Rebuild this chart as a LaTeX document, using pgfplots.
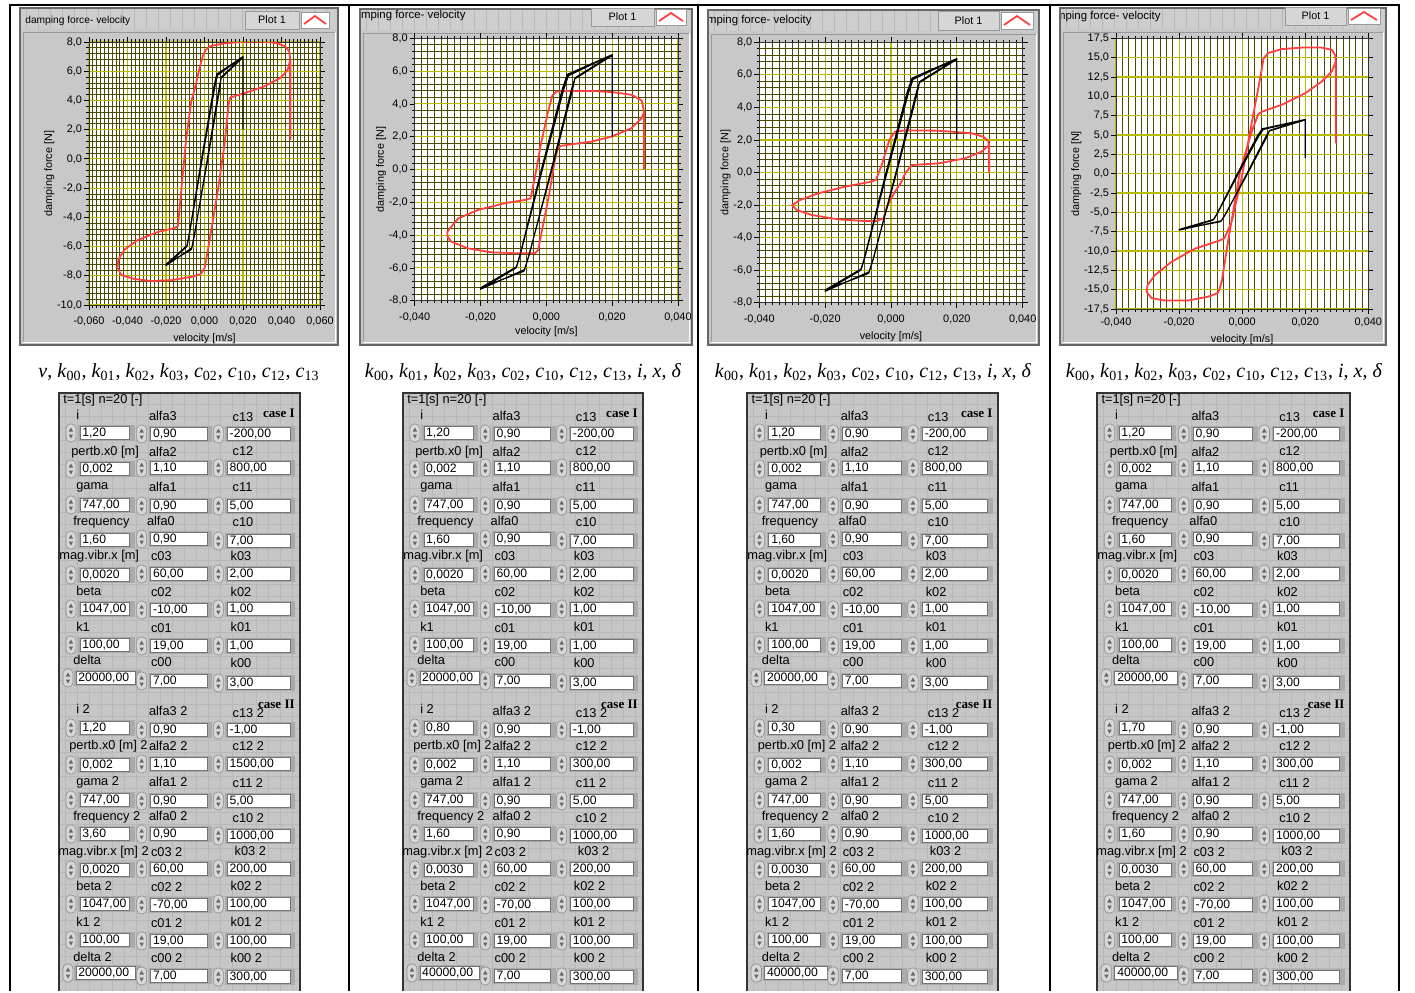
\documentclass[border=0pt]{standalone}
\usepackage{fontspec}
\setmainfont{Liberation Serif}
\newfontfamily\lv{Liberation Sans}
\usepackage{pgfplots}
\usepackage{pgfplotstable}
\pgfplotsset{compat=1.18}

\definecolor{framefill}{RGB}{200,200,200}
\definecolor{titlefill}{RGB}{206,206,206}
\definecolor{panelfill}{RGB}{198,198,198}
\definecolor{panelgrid}{RGB}{184,184,184}
\definecolor{legfill}{RGB}{214,214,214}
\definecolor{ctlshade}{RGB}{170,170,170}
\definecolor{spinfill}{RGB}{215,215,215}
\definecolor{majg}{RGB}{185,185,0}
\definecolor{ming}{RGB}{75,75,0}
\definecolor{lvred}{RGB}{255,64,64}

\newcommand\lvt{\lv\fontsize{5.45}{6}\selectfont}
\newcommand\lvl{\lv\fontsize{5.4}{6}\selectfont}
\newcommand\lvta{\lv\fontsize{5.1}{6}\selectfont}
\newcommand\lvtb{\lv\fontsize{5.7}{6}\selectfont}
\newcommand\lvp{\lv\fontsize{6.4}{7}\selectfont}
\newcommand\lvv{\lv\fontsize{6.1}{7}\selectfont}
\newcommand\lvb{\rmfamily\bfseries\fontsize{6.5}{7}\selectfont}
\newcommand\capf{\rmfamily\fontsize{10}{12}\selectfont}
\newcommand\sk[2]{\textit{#1}\textsubscript{#2}}

\newcommand\lvlab[3]{\node[anchor=west,inner sep=0pt,font=\lvp] at (#1,#2) {#3};}
\newcommand\lvctl[5]{%
 \fill[ctlshade] ({#2-2},{#4-8.5}) rectangle ({#3+5},{#4+8});
 \filldraw[fill=white,draw=black!55,line width=0.3pt] (#2,{#4-6.7}) rectangle (#3,{#4+6.7});
 \filldraw[fill=spinfill,draw=black!45,line width=0.3pt,rounded corners=2.2pt] ({#1-5},{#4-9}) rectangle ({#1+5},{#4+9});
 \fill[black!60] ({#1-2.2},{#4-1.5}) -- (#1,{#4-5.5}) -- ({#1+2.2},{#4-1.5}) -- cycle;
 \fill[black!60] ({#1-2.2},{#4+1.5}) -- (#1,{#4+5.5}) -- ({#1+2.2},{#4+1.5}) -- cycle;
 \node[anchor=west,inner sep=0pt,font=\lvv] at ({#2+2},{#4+0.5}) {#5};}
\newcommand\ctlA[2]{\lvctl{12}{21}{71}{#1}{#2}}
\newcommand\ctlB[2]{\lvctl{83}{92}{149}{#1}{#2}}
\newcommand\ctlC[2]{\lvctl{160}{169}{232}{#1}{#2}}

\newcommand\lvpanel[7]{%
\begin{scope}[shift={(#1,0)},xscale=#2/242]
 \fill[panelfill] (0,393) rectangle (242,991);
 \foreach \gx in {6,18,...,240} \draw[panelgrid,line width=0.3pt] (\gx,393) -- (\gx,991);
 \foreach \gy in {404,416,...,990} \draw[panelgrid,line width=0.3pt] (0,\gy) -- (242,\gy);
 \draw[black!80,line width=0.8pt] (0,991) -- (0,393) -- (242,393) -- (242,991);
 \lvlab{4}{400}{t=1[s] n=20 [-]}
 \node[anchor=east,inner sep=0pt,font=\lvb] at (237,413) {case I};
 \lvlab{17}{415}{i}\lvlab{90}{416}{alfa3}\lvlab{174}{417}{c13}
 \ctlA{433}{1,20}\ctlB{434}{0,90}\ctlC{434}{-200,00}
 \lvlab{12}{452}{pertb.x0 [m]}\lvlab{90}{452}{alfa2}\lvlab{174}{451}{c12}
 \ctlA{469}{0,002}\ctlB{468}{1,10}\ctlC{468}{800,00}
 \lvlab{17}{487}{gama}\lvlab{90}{487}{alfa1}\lvlab{174}{487}{c11}
 \ctlA{505}{747,00}\ctlB{506}{0,90}\ctlC{506}{5,00}
 \lvlab{14}{522}{frequency}\lvlab{88}{521}{alfa0}\lvlab{174}{522}{c10}
 \ctlA{540}{1,60}\ctlB{539}{0,90}\ctlC{541}{7,00}
 \lvlab{0}{556}{mag.vibr.x [m]}\lvlab{92}{556}{c03}\lvlab{172}{556}{k03}
 \ctlA{575}{0,0020}\ctlB{574}{60,00}\ctlC{574}{2,00}
 \lvlab{17}{591}{beta}\lvlab{92}{592}{c02}\lvlab{172}{592}{k02}
 \ctlA{609}{1047,00}\ctlB{610}{-10,00}\ctlC{609}{1,00}
 \lvlab{17}{627}{k1}\lvlab{92}{628}{c01}\lvlab{172}{627}{k01}
 \ctlA{645}{100,00}\ctlB{646}{19,00}\ctlC{646}{1,00}
 \lvlab{14}{660}{delta}\lvlab{92}{662}{c00}\lvlab{172}{663}{k00}
 \lvctl{9}{17}{77}{678}{20000,00}\ctlB{681}{7,00}\ctlC{683}{3,00}
 \node[anchor=east,inner sep=0pt,font=\lvb] at (237,704) {case II};
 \lvlab{17}{709}{i 2}\lvlab{90}{711}{alfa3 2}\lvlab{174}{713}{c13 2}
 \ctlA{728}{#3}\ctlB{730}{0,90}\ctlC{730}{-1,00}
 \lvlab{10}{746}{pertb.x0 [m] 2}\lvlab{90}{746}{alfa2 2}\lvlab{174}{746}{c12 2}
 \ctlA{765}{0,002}\ctlB{764}{1,10}\ctlC{764}{#4}
 \lvlab{17}{782}{gama 2}\lvlab{90}{782}{alfa1 2}\lvlab{174}{783}{c11 2}
 \ctlA{800}{747,00}\ctlB{801}{0,90}\ctlC{801}{5,00}
 \lvlab{14}{817}{frequency 2}\lvlab{90}{816}{alfa0 2}\lvlab{174}{818}{c10 2}
 \ctlA{834}{#5}\ctlB{834}{0,90}\ctlC{836}{1000,00}
 \lvlab{-1}{852}{mag.vibr.x [m] 2}\lvlab{92}{852}{c03 2}\lvlab{176}{851}{k03  2}
 \ctlA{870}{#6}\ctlB{869}{60,00}\ctlC{869}{200,00}
 \lvlab{17}{886}{beta 2}\lvlab{92}{887}{c02 2}\lvlab{172}{886}{k02 2}
 \ctlA{904}{1047,00}\ctlB{905}{-70,00}\ctlC{904}{100,00}
 \lvlab{17}{922}{k1 2}\lvlab{92}{923}{c01 2}\lvlab{172}{922}{k01 2}
 \ctlA{940}{100,00}\ctlB{941}{19,00}\ctlC{941}{100,00}
 \lvlab{14}{957}{delta 2}\lvlab{92}{958}{c00 2}\lvlab{172}{958}{k00 2}
 \lvctl{9}{17}{77}{973}{#7}\ctlB{976}{7,00}\ctlC{977}{300,00}
\end{scope}}

\newcommand\lvframe[4]{%
 \fill[framefill] (#1,#2) rectangle (#3,#4);
 \fill[titlefill] (#1,#2) rectangle (#3,{#2+21});
 \begin{scope}[shift={(#1,0)}]
 \foreach \gx in {6,18,...,318} \draw[panelgrid,line width=0.3pt] (\gx,#2) -- (\gx,{#2+21});
 \end{scope}
 \draw[black!40,line width=0.4pt] ({#1+3},{#4-3}) -- ({#1+3},{#2+24}) -- ({#3-3},{#2+24});
 \draw[white,line width=0.4pt] ({#1+3},{#4-3}) -- ({#3-3},{#4-3}) -- ({#3-3},{#2+24});
 \draw[black!60,line width=0.6pt] (#1,#2) rectangle (#3,#4);}
\newcommand\lvleg[5]{%
 \filldraw[fill=legfill,draw=black!40,line width=0.4pt] (#1,#2) rectangle (#3,#4);
 \node[font=\lvl,inner sep=0pt] at ({(#1+#3)/2},{(#2+#4)/2}) {Plot 1};
 \filldraw[fill=white,draw=black!40,line width=0.4pt] ({#3+2},{#2+1}) rectangle (#5,{#4-1});
 \draw[lvred,line width=0.9pt] ({#3+5},{#4-5}) -- ({(#3+2+#5)/2},{#2+5}) -- ({#5-3},{#4-5});}

\pgfplotsset{lvaxis/.style={scale only axis, anchor=south west,
 axis background/.style={fill=white},
 scaled x ticks=false, scaled y ticks=false,
 grid=both, major grid style={draw=majg,line width=0.55pt},
 minor grid style={draw=ming,line width=0.4pt},
 tick align=outside, major tick length=2.5pt, minor tick length=1.3pt,
 every tick/.style={black,line width=0.4pt},
 axis line style={black!80,line width=0.4pt},
 xticklabel style={font=\lvt}, yticklabel style={font=\lvt,xshift=2.5pt},
 xlabel style={font=\lvl,yshift=3pt}, ylabel style={font=\lvl,yshift=-5.5pt},
 xlabel={velocity [m/s]}, ylabel={damping force [N]},
 clip=true},
 redl/.style={draw=lvred,line width=0.9pt,line join=round},
 blkl/.style={draw=black,line width=0.6pt,line join=round}}

\pgfplotstableread{
v f
0.0200 2.0
0.0200 7.0
0.0064 5.8
0.0050 5.0
-0.0015 0.0
-0.0080 -5.2
-0.0092 -6.0
-0.0200 -7.3
-0.0066 -6.1
-0.0052 -5.2
0.0015 0.0
0.0078 5.0
0.0088 5.6
0.0200 7.0
0.0067 5.72
0.0053 4.9
-0.0012 0.0
-0.0078 -5.1
-0.0090 -5.92
-0.0200 -7.22
-0.0068 -6.2
-0.0054 -5.3
0.0017 0.0
0.0080 4.9
0.0086 5.52
0.0200 6.95
}\blackloop

\pgfplotstableread{
v f
0.0446 1.3
0.0446 6.8
0.0440 7.35
0.0420 7.7
0.0380 7.9
0.0330 8.0
0.0260 8.03
0.0180 8.0
0.0090 7.88
0.0030 7.72
0.0005 7.45
-0.0010 7.0
-0.0026 6.2
-0.0045 5.1
-0.0069 3.9
-0.0095 1.4
-0.0121 -2.2
-0.0138 -4.6
-0.0160 -4.75
-0.0242 -5.0
-0.0346 -5.55
-0.0415 -6.2
-0.0448 -6.9
-0.0452 -7.45
-0.0432 -7.95
-0.0363 -8.22
-0.0277 -8.36
-0.0173 -8.3
-0.0069 -8.08
-0.0021 -7.9
0.0000 -7.5
0.0017 -6.3
0.0069 -2.2
0.0104 1.0
0.0125 3.7
0.0133 4.2
0.0207 4.5
0.0311 4.96
0.0398 5.58
0.0432 6.1
0.0446 6.8
}\redA

\pgfplotstableread{
v f
0.0297 0.0
0.0297 3.5
0.0290 4.2
0.0260 4.55
0.0200 4.72
0.0137 4.79
0.0056 4.79
0.0030 4.75
0.0018 4.5
0.0005 3.5
-0.0017 1.5
-0.0035 -0.5
-0.0048 -1.76
-0.0066 -1.86
-0.0127 -2.06
-0.0208 -2.47
-0.0268 -2.98
-0.0301 -3.79
-0.0300 -4.1
-0.0289 -4.4
-0.0238 -4.81
-0.0167 -5.05
-0.0086 -5.11
-0.0035 -5.11
-0.0025 -4.91
-0.0010 -3.38
0.0010 -1.35
0.0025 0.48
0.0035 1.3
0.0046 1.45
0.0137 1.7
0.0197 2.0
0.0258 2.51
0.0289 3.12
0.0297 3.5
}\redB

\pgfplotstableread{
v f
0.0298 0.0
0.0298 1.7
0.0295 1.95
0.0280 2.2
0.0245 2.41
0.0144 2.57
0.0043 2.59
0.0012 2.51
-0.0005 2.0
-0.0013 1.49
-0.0028 0.46
-0.0046 -0.46
-0.0059 -0.56
-0.0140 -0.87
-0.0221 -1.28
-0.0276 -1.69
-0.0300 -2.0
-0.0287 -2.3
-0.0241 -2.61
-0.0160 -2.88
-0.0079 -2.98
-0.0044 -2.98
-0.0023 -2.82
-0.0010 -2.0
0.0012 -1.18
0.0032 -0.56
0.0043 -0.05
0.0063 0.46
0.0144 0.56
0.0225 0.87
0.0275 1.28
0.0298 1.7
}\redC

\pgfplotstableread{
v f
0.0297 3.9
0.0297 14.5
0.0295 15.3
0.0285 16.0
0.0252 16.3
0.0189 16.3
0.0125 16.1
0.0083 15.6
0.0068 14.9
0.0051 11.0
0.0035 7.6
-0.0002 -0.6
-0.0033 -6.2
-0.0057 -8.4
-0.0076 -8.7
-0.0150 -9.7
-0.0224 -11.4
-0.0276 -13.1
-0.0300 -14.4
-0.0303 -15.3
-0.0287 -16.1
-0.0245 -16.4
-0.0171 -16.4
-0.0107 -15.9
-0.0076 -15.4
-0.0065 -14.0
-0.0044 -8.6
-0.0007 0.26
0.0030 5.4
0.0051 7.7
0.0062 8.0
0.0125 8.9
0.0200 10.4
0.0252 11.9
0.0284 13.2
0.0297 14.5
}\redD

\begin{document}
\begin{tikzpicture}
\begin{scope}[x=0.5pt,y=-0.5pt]
\path[use as bounding box] (0,0) rectangle (1415,991);
\fill[white] (0,0) rectangle (1415,991);
\lvframe{20}{8}{338}{345}
\lvframe{360}{9}{692}{345}
\lvframe{708}{10}{1039}{345}
\lvframe{1060}{8}{1386}{345}
\lvleg{245}{11}{299}{29}{329}
\lvleg{591}{8}{654}{26}{686}
\lvleg{938}{11}{999}{30}{1033}
\lvleg{1285}{7}{1346}{25}{1380}
\node[anchor=west,inner sep=0pt,font=\lvta] at (25,21) {damping force- velocity};
\begin{scope}\clip (361,9) rectangle (692,30);
\node[anchor=east,inner sep=0pt,font=\lvtb] at (466,16) {damping force- velocity};\end{scope}
\begin{scope}\clip (709,10) rectangle (1039,30);
\node[anchor=east,inner sep=0pt,font=\lvtb] at (812,21) {damping force- velocity};\end{scope}
\begin{scope}\clip (1061,8) rectangle (1386,30);
\node[anchor=east,inner sep=0pt,font=\lvtb] at (1161,17) {damping force- velocity};\end{scope}
\end{scope}

\begin{scope}
\clip (10pt,-4pt) rectangle (169pt,-172.5pt);
\begin{axis}[lvaxis, at={(44.5pt,-152.5pt)}, width=115.5pt, height=131.5pt,
 xmin=-0.06, xmax=0.06, ymin=-10, ymax=8,
 xtick={-0.06,-0.04,-0.02,0,0.02,0.04,0.06},
 xticklabels={{-0,060},{-0,040},{-0,020},{0,000},{0,020},{0,040},{0,060}},
 ytick={-10,-8,-6,-4,-2,0,2,4,6,8},
 yticklabels={{-10,0},{-8,0},{-6,0},{-4,0},{-2,0},{0,0},{2,0},{4,0},{6,0},{8,0}},
 minor x tick num=9, minor y tick num=4]
\addplot[redl] table[x=v,y=f] {\redA};
\addplot[blkl] table[x=v,y=f] {\blackloop};
\end{axis}
\end{scope}

\begin{scope}
\clip (180pt,-4.5pt) rectangle (346pt,-172.5pt);
\begin{axis}[lvaxis, at={(207.35pt,-150.35pt)}, width=131.65pt, height=131.2pt,
 xmin=-0.04, xmax=0.04, ymin=-8, ymax=8,
 xlabel style={yshift=1.5pt},
 xtick={-0.04,-0.02,0,0.02,0.04},
 xticklabels={{-0,040},{-0,020},{0,000},{0,020},{0,040}},
 ytick={-8,-6,-4,-2,0,2,4,6,8},
 yticklabels={{-8,0},{-6,0},{-4,0},{-2,0},{0,0},{2,0},{4,0},{6,0},{8,0}},
 minor x tick num=9, minor y tick num=4]
\addplot[redl] table[x=v,y=f] {\redB};
\addplot[blkl] table[x=v,y=f] {\blackloop};
\end{axis}
\end{scope}

\begin{scope}
\clip (354pt,-5pt) rectangle (519.5pt,-172.5pt);
\begin{axis}[lvaxis, at={(379.65pt,-151.35pt)}, width=131.7pt, height=130.2pt,
 xmin=-0.04, xmax=0.04, ymin=-8, ymax=8,
 xtick={-0.04,-0.02,0,0.02,0.04},
 xticklabels={{-0,040},{-0,020},{0,000},{0,020},{0,040}},
 ytick={-8,-6,-4,-2,0,2,4,6,8},
 yticklabels={{-8,0},{-6,0},{-4,0},{-2,0},{0,0},{2,0},{4,0},{6,0},{8,0}},
 minor x tick num=9, minor y tick num=4]
\addplot[redl] table[x=v,y=f] {\redC};
\addplot[blkl] table[x=v,y=f] {\blackloop};
\end{axis}
\end{scope}

\begin{scope}
\clip (530pt,-4pt) rectangle (693pt,-172.5pt);
\begin{axis}[lvaxis, at={(558pt,-154.5pt)}, width=126.15pt, height=135.35pt,
 xmin=-0.04, xmax=0.04, ymin=-17.5, ymax=17.5,
 xticklabel style={yshift=1.5pt},
 xtick={-0.04,-0.02,0,0.02,0.04},
 xticklabels={{-0,040},{-0,020},{0,000},{0,020},{0,040}},
 ytick={-17.5,-15,-12.5,-10,-7.5,-5,-2.5,0,2.5,5,7.5,10,12.5,15,17.5},
 yticklabels={{-17,5},{-15,0},{-12,5},{-10,0},{-7,5},{-5,0},{-2,5},{0,0},{2,5},{5,0},{7,5},{10,0},{12,5},{15,0},{17,5}},
 minor x tick num=9, minor y tick num=0]
\addplot[redl] table[x=v,y=f] {\redD};
\addplot[blkl] table[x=v,y=f] {\blackloop};
\end{axis}
\end{scope}

\begin{scope}[x=0.5pt,y=-0.5pt]
\node[font=\capf] at (179,372) {\textit{v}, \sk{k}{00}, \sk{k}{01}, \sk{k}{02}, \sk{k}{03}, \sk{c}{02}, \sk{c}{10}, \sk{c}{12}, \sk{c}{13}};
\node[font=\capf] at (523,372) {\sk{k}{00}, \sk{k}{01}, \sk{k}{02}, \sk{k}{03}, \sk{c}{02}, \sk{c}{10}, \sk{c}{12}, \sk{c}{13}, \textit{i}, \textit{x}, \textit{δ}};
\node[font=\capf] at (873,372) {\sk{k}{00}, \sk{k}{01}, \sk{k}{02}, \sk{k}{03}, \sk{c}{02}, \sk{c}{10}, \sk{c}{12}, \sk{c}{13}, \textit{i}, \textit{x}, \textit{δ}};
\node[font=\capf] at (1224,372) {\sk{k}{00}, \sk{k}{01}, \sk{k}{02}, \sk{k}{03}, \sk{c}{02}, \sk{c}{10}, \sk{c}{12}, \sk{c}{13}, \textit{i}, \textit{x}, \textit{δ}};
\lvpanel{59}{241}{1,20}{1500,00}{3,60}{0,0020}{20000,00}
\lvpanel{403}{240}{0,80}{300,00}{1,60}{0,0030}{40000,00}
\lvpanel{747}{251}{0,30}{300,00}{1,60}{0,0030}{40000,00}
\lvpanel{1097}{253}{1,70}{300,00}{1,60}{0,0030}{40000,00}
\draw[black,line width=1pt] (9,4.5) -- (1399,4.5);
\foreach \x in {10,348.5,697.5,1050,1398.5} \draw[black,line width=1pt] (\x,4) -- (\x,991);
\end{scope}
\end{tikzpicture}
\end{document}
